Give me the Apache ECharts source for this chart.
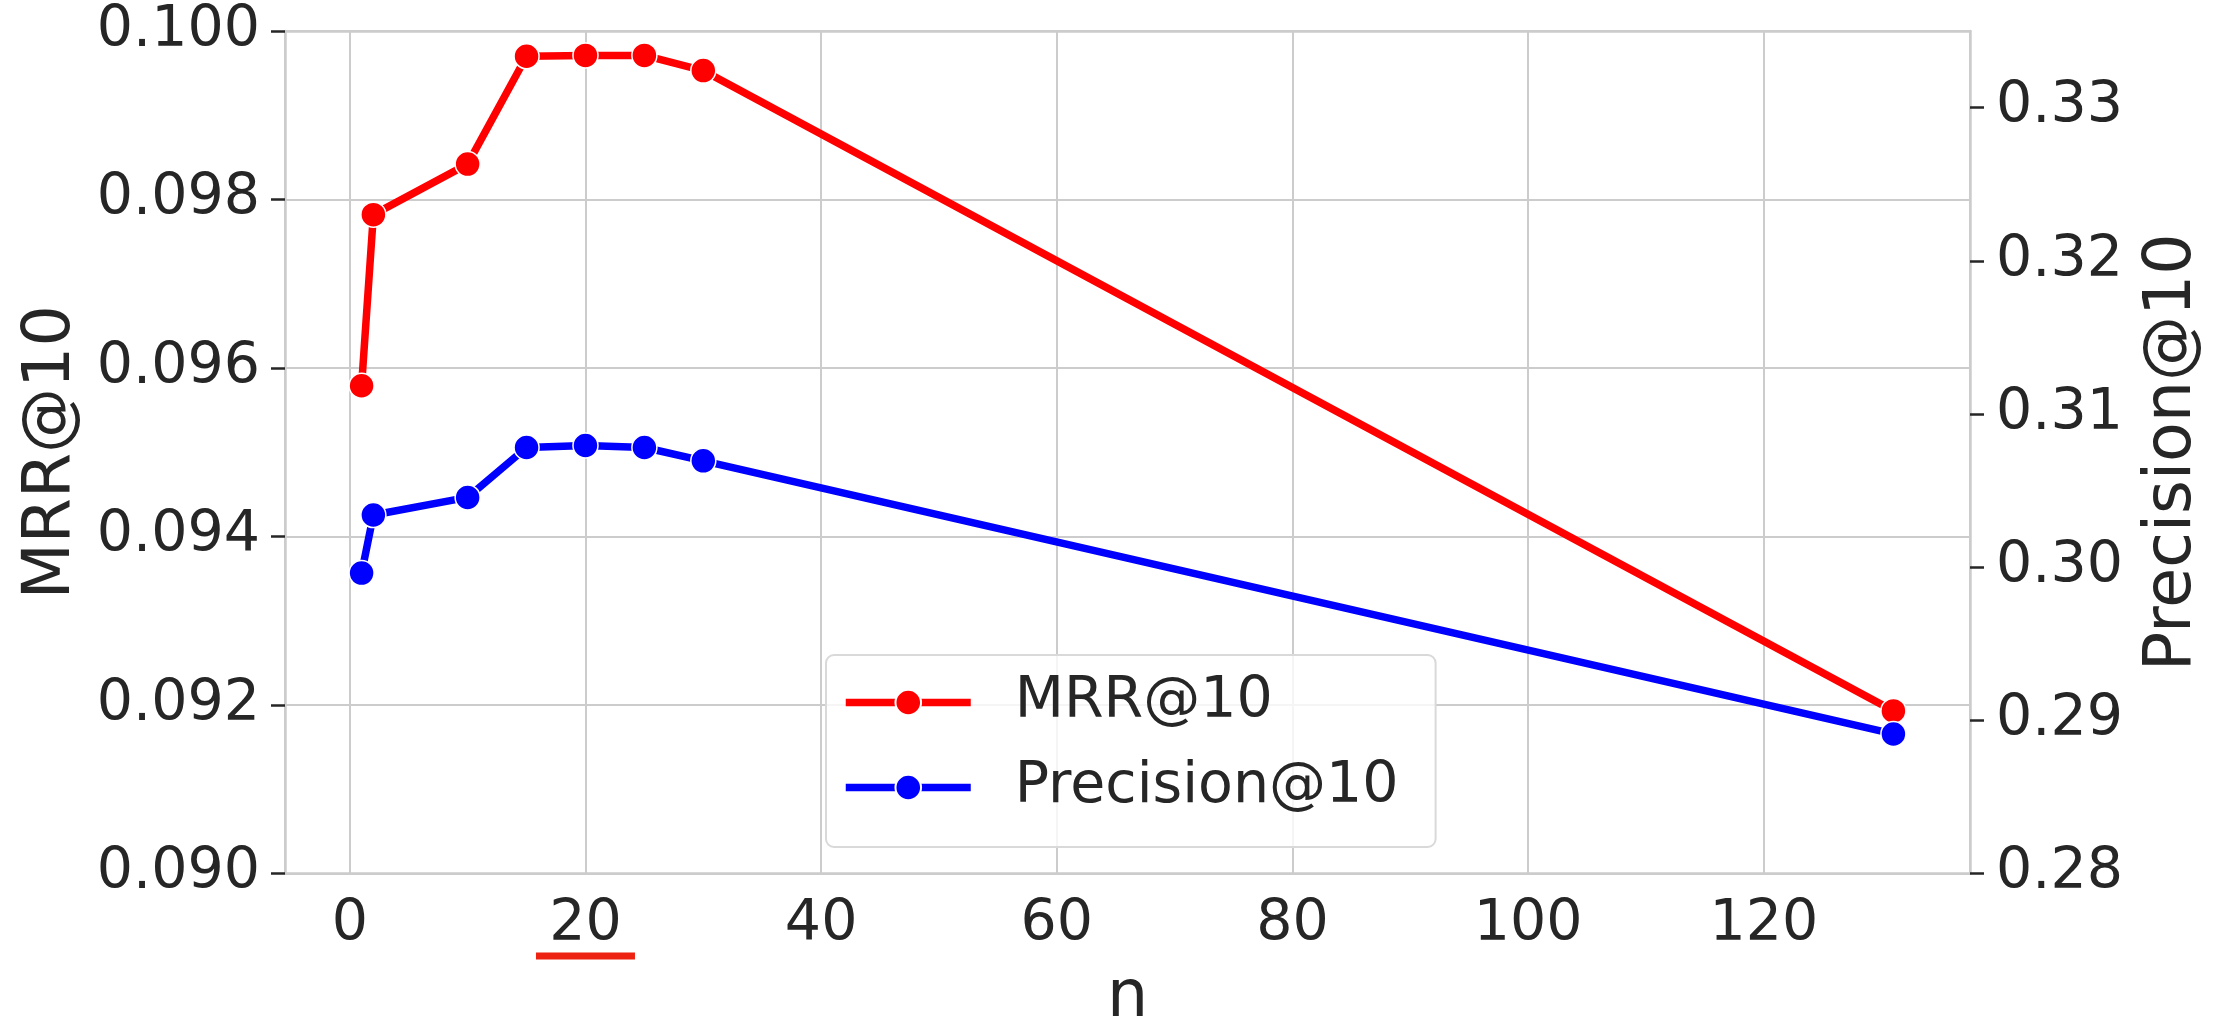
<!DOCTYPE html>
<html>
<head>
<meta charset="utf-8">
<script src="https://cdn.jsdelivr.net/npm/echarts@6/dist/echarts.min.js"></script>
<style>
  html, body { margin: 0; padding: 0; background: #ffffff; }
  #chart { width: 2229px; height: 1020px; }
</style>
</head>
<body>
<div id="chart"></div>
<script>
// ---- data ----
const nValues = [1, 2, 10, 15, 20, 25, 30, 131];
const mrrValues = [0.09579, 0.09782, 0.09842, 0.09970, 0.09971, 0.09971, 0.09953, 0.09193];
const precisionValues = [0.29961, 0.30340, 0.30455, 0.30781, 0.30794, 0.30781, 0.30694, 0.28911];
const leftTicks = [0.090, 0.092, 0.094, 0.096, 0.098, 0.100];
const rightTicks = [0.28, 0.29, 0.30, 0.31, 0.32, 0.33];
const xTicks = [0, 20, 40, 60, 80, 100, 120];
const seriesNames = ['MRR@10', 'Precision@10'];
const highlightedTick = 20;

const FONT = 'DejaVu Sans';
const TEXT = '#262626';
const GRID = '#cccccc';

const chart = echarts.init(document.getElementById('chart'), null, { renderer: 'canvas' });

const mrrData = nValues.map((n, i) => [n, mrrValues[i]]);
const precData = nValues.map((n, i) => [n, precisionValues[i]]);

const option = {
  backgroundColor: '#ffffff',
  animation: false,
  grid: { left: 285, right: 259, top: 31, bottom: 146.5, containLabel: false, outerBoundsMode: 'none' },
  legend: {
    orient: 'vertical',
    left: 826, top: 655,
    padding: [19, 37, 31, 16],
    itemGap: 28,
    itemWidth: 125, itemHeight: 32,
    backgroundColor: 'rgba(255,255,255,0.8)',
    borderColor: '#d9d9d9', borderWidth: 2, borderRadius: 8,
    lineStyle: { width: 7.5 },
    textStyle: { fontFamily: FONT, fontSize: 57, color: TEXT, padding: [0, 0, 0, 39] },
    data: seriesNames
  },
  xAxis: [{
    type: 'value',
    min: -5.5, max: 137.5,
    splitNumber: 7,
    name: 'n', nameLocation: 'middle', nameGap: 93,
    nameTextStyle: { fontFamily: FONT, fontSize: 65, color: TEXT },
    axisLine: { show: true, onZero: false, lineStyle: { color: GRID, width: 2.5 } },
    axisTick: { show: false },
    axisLabel: {
      fontFamily: FONT, fontSize: 57, color: TEXT, margin: 23,
      showMinLabel: false, showMaxLabel: false,
      formatter: v => (xTicks.indexOf(Math.round(v)) >= 0 && Math.abs(v - Math.round(v)) < 1e-6) ? String(Math.round(v)) : ''
    },
    splitLine: { show: true, lineStyle: { color: GRID, width: 2 } }
  }, {
    type: 'value', position: 'top',
    min: -5.5, max: 137.5,
    axisLine: { show: true, onZero: false, lineStyle: { color: GRID, width: 2.5 } },
    axisTick: { show: false }, axisLabel: { show: false }, splitLine: { show: false }
  }],
  yAxis: [{
    type: 'value', position: 'left',
    min: leftTicks[0], max: leftTicks[leftTicks.length - 1], interval: 0.002,
    name: 'MRR@10', nameLocation: 'middle', nameGap: 200, nameRotate: 90,
    nameTextStyle: { fontFamily: FONT, fontSize: 65, color: TEXT },
    axisLine: { show: true, onZero: false, lineStyle: { color: GRID, width: 2.5 } },
    axisTick: { show: true, length: 14, lineStyle: { color: TEXT, width: 2.5 } },
    axisLabel: { fontFamily: FONT, fontSize: 57, color: TEXT, margin: 25, formatter: v => v.toFixed(3) },
    splitLine: { show: true, lineStyle: { color: GRID, width: 2 } }
  }, {
    type: 'value', position: 'right',
    min: 0.28, max: 0.335,
    name: 'Precision@10', nameLocation: 'middle', nameGap: 171, nameRotate: 90,
    nameTextStyle: { fontFamily: FONT, fontSize: 65, color: TEXT },
    axisLine: { show: true, onZero: false, lineStyle: { color: GRID, width: 2.5 } },
    axisTick: { show: true, length: 14, customValues: rightTicks, lineStyle: { color: TEXT, width: 2.5 } },
    axisLabel: { fontFamily: FONT, fontSize: 57, color: TEXT, margin: 26, customValues: rightTicks, formatter: v => v.toFixed(2) },
    splitLine: { show: false }
  }],
  series: [{
    name: seriesNames[0], type: 'line', xAxisIndex: 0, yAxisIndex: 0,
    data: mrrData,
    symbol: 'circle', symbolSize: 25, showAllSymbol: true,
    lineStyle: { color: '#ff0000', width: 7.5 },
    itemStyle: { color: '#ff0000', borderColor: '#ffffff', borderWidth: 1.5 },
    z: 3
  }, {
    name: seriesNames[1], type: 'line', xAxisIndex: 0, yAxisIndex: 1,
    data: precData,
    symbol: 'circle', symbolSize: 25, showAllSymbol: true,
    lineStyle: { color: '#0000ff', width: 7.5 },
    itemStyle: { color: '#0000ff', borderColor: '#ffffff', borderWidth: 1.5 },
    z: 4
  }]
};

chart.setOption(option);

// red underline below the highlighted x tick label
const px = chart.convertToPixel({ xAxisIndex: 0 }, highlightedTick);
const bottomPx = chart.convertToPixel({ yAxisIndex: 0 }, leftTicks[0]);
chart.setOption({
  graphic: [{
    type: 'rect',
    shape: { x: px - 49.5, y: bottomPx + 79, width: 99, height: 7 },
    style: { fill: '#ee2211' },
    silent: true
  }]
});
</script>
</body>
</html>
